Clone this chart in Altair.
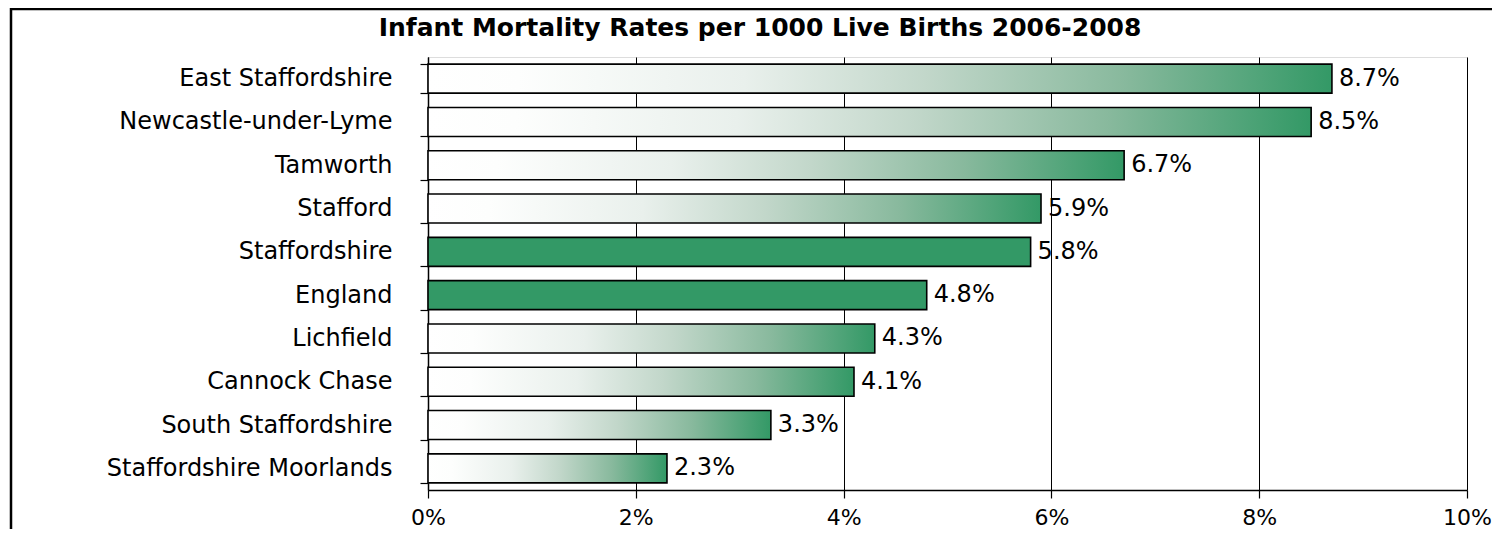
import altair as alt
import pandas as pd

# ---- data ----
areas = ["East Staffordshire", "Newcastle-under-Lyme", "Tamworth", "Stafford",
         "Staffordshire", "England", "Lichfield", "Cannock Chase",
         "South Staffordshire", "Staffordshire Moorlands"]
rates = [8.7, 8.5, 6.7, 5.9, 5.8, 4.8, 4.3, 4.1, 3.3, 2.3]
kinds = ["district", "district", "district", "district",
         "reference", "reference", "district", "district",
         "district", "district"]
x_ticks = [0, 2, 4, 6, 8, 10]
title_text = "Infant Mortality Rates per 1000 Live Births 2006-2008"

df = pd.DataFrame({"area": areas, "rate": rates, "kind": kinds})

GREEN = "#339966"
FONT = "DejaVu Sans"
FS = 24

y_enc = alt.Y(
    "area:N",
    scale=alt.Scale(domain=areas, paddingInner=0.33, paddingOuter=0.165),
    axis=alt.Axis(
        title="", tickBand="extent", tickSize=8, tickColor="black", tickWidth=1.2,
        labelFont=FONT, labelFontSize=FS, labelColor="black", labelPadding=28,
        labelLimit=420, domainColor="black", domainWidth=1.5, grid=False,
    ),
)
x_enc = alt.X(
    "rate:Q",
    scale=alt.Scale(domain=[0, 10], nice=False),
    axis=alt.Axis(
        title="", values=x_ticks, labelExpr="datum.value + '%'",
        labelFlush=False, labelOverlap=False,
        grid=True, gridColor="black", gridWidth=1,
        tickSize=8, tickColor="black", tickWidth=1.2,
        domainColor="black", domainWidth=1.5,
        labelFont=FONT, labelFontSize=22, labelColor="black", labelPadding=9,
    ),
)

base = alt.Chart(df)

gradient = alt.LinearGradient(
    gradient="linear",
    stops=[alt.GradientStop(color="#ffffff", offset=0),
           alt.GradientStop(color="#fdfefd", offset=0.1),
           alt.GradientStop(color="#e9f0ec", offset=0.35),
           alt.GradientStop(color="#c2d7ca", offset=0.55),
           alt.GradientStop(color="#88b99d", offset=0.77),
           alt.GradientStop(color=GREEN, offset=1)],
    x1=0, x2=1, y1=0, y2=0,
)

grad_bars = base.transform_filter(alt.datum.kind == "district").mark_bar(
    color=gradient, stroke="black", strokeWidth=1.6
).encode(y=y_enc, x=x_enc)

solid_bars = base.transform_filter(alt.datum.kind == "reference").mark_bar(
    color=GREEN, stroke="black", strokeWidth=1.6
).encode(y=y_enc, x=x_enc)

labels = base.transform_calculate(
    label="format(datum.rate, '.1f') + '%'"
).mark_text(
    align="left", baseline="middle", dx=7, font=FONT, fontSize=FS, color="black"
).encode(y=y_enc, x=x_enc, text="label:N")

one = pd.DataFrame({"f": [0]})

frame = alt.Chart(one).mark_rect(
    fillOpacity=0, stroke="black", strokeWidth=2.5
).encode(
    x=alt.value(-417), x2=alt.value(1200),
    y=alt.value(-48), y2=alt.value(600),
)

title = alt.Chart(one).mark_text(
    text=title_text, font=FONT, fontSize=25, fontWeight="bold", color="black",
    align="center", baseline="middle",
).encode(x=alt.value(332), y=alt.value(-29))

chart = alt.layer(frame, grad_bars, solid_bars, labels, title).properties(
    width=1039,
    height=433,
    autosize=alt.AutoSizeParams(type="none"),
    padding={"left": 420, "top": 49, "right": 25, "bottom": 39},
).configure_view(
    stroke="#999999", strokeWidth=1.5
).configure(background="white")

chart.save("out.html", embed_options={"renderer": "svg", "actions": False})
